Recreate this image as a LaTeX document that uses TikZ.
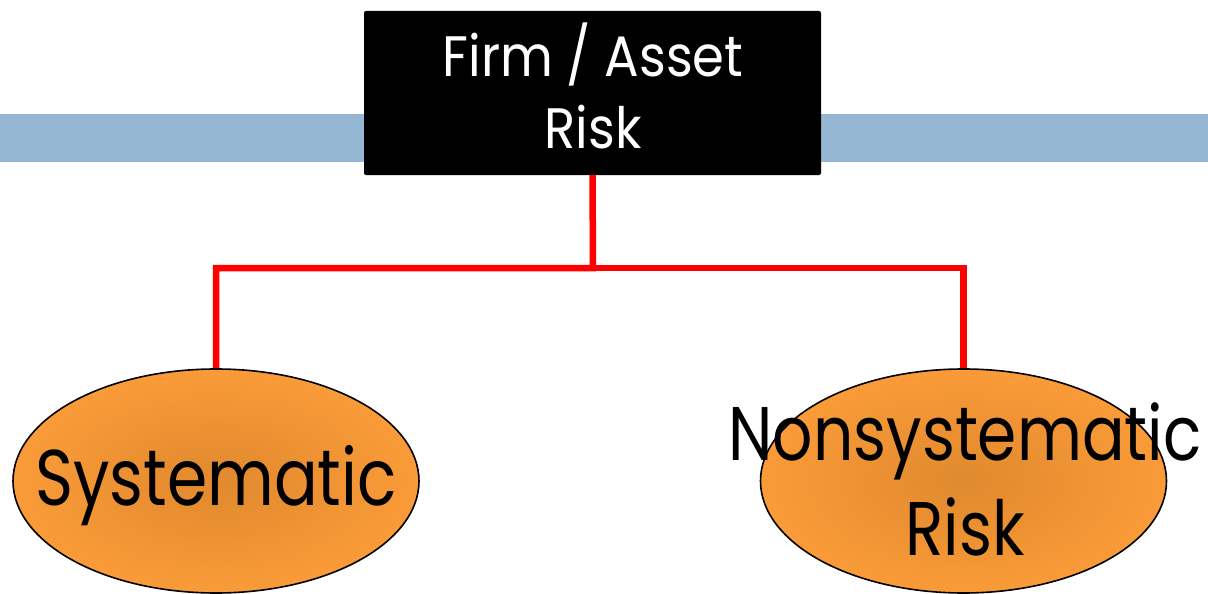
\documentclass[tikz,border=0pt]{standalone}
\usepackage{fontspec}
\setmainfont{Poppins}
\usetikzlibrary{shapes.geometric}
\definecolor{barblue}{RGB}{149,183,211}
\definecolor{orin}{RGB}{224,137,46}
\definecolor{orout}{RGB}{250,155,56}
\definecolor{lnred}{RGB}{255,0,0}
\tikzset{
  ov/.style={ellipse,draw=black,line width=1.6pt,shading=radial,inner color=orin,outer color=orout,minimum width=406pt,minimum height=224pt,inner sep=0pt},
  conn/.style={draw=lnred,line width=6.5pt},
  lbl/.style={inner sep=0pt,anchor=base,text=black}
}
\begin{document}
\begin{tikzpicture}[x=1pt,y=-1pt]
\useasboundingbox (0,0) rectangle (1208,594);
\fill[barblue] (0,114) rectangle (1208,162);
\node[fill=black,rounded corners=2pt,minimum width=457pt,minimum height=164pt,inner sep=0pt] (box) at (592.5,93) {};
\node[lbl,text=white,font=\fontsize{57}{71}\selectfont] (t1) at (593,77) {\scalebox{0.9}[1]{Firm / Asset}};
\node[lbl,text=white,font=\fontsize{57}{71}\selectfont] (t2) at (593,148) {\scalebox{0.9}[1]{Risk}};
\node[ov] (sys) at (216,481) {};
\node[ov] (non) at (963.5,481) {};
\coordinate (j) at (593,268);
\draw[conn] (box.south) -- (j) -| (sys.north);
\draw[conn] (j) -| (non.north);
\node[lbl,font=\fontsize{79}{95}\selectfont] (s1) at (216,505) {\scalebox{0.82}[1]{Systematic}};
\node[lbl,font=\fontsize{76}{95}\selectfont] (n1) at (965,460) {\scalebox{0.83}[1]{Nonsystematic}};
\node[lbl,font=\fontsize{76}{95}\selectfont] (n2) at (965,555) {\scalebox{0.83}[1]{Risk}};
\end{tikzpicture}
\end{document}
